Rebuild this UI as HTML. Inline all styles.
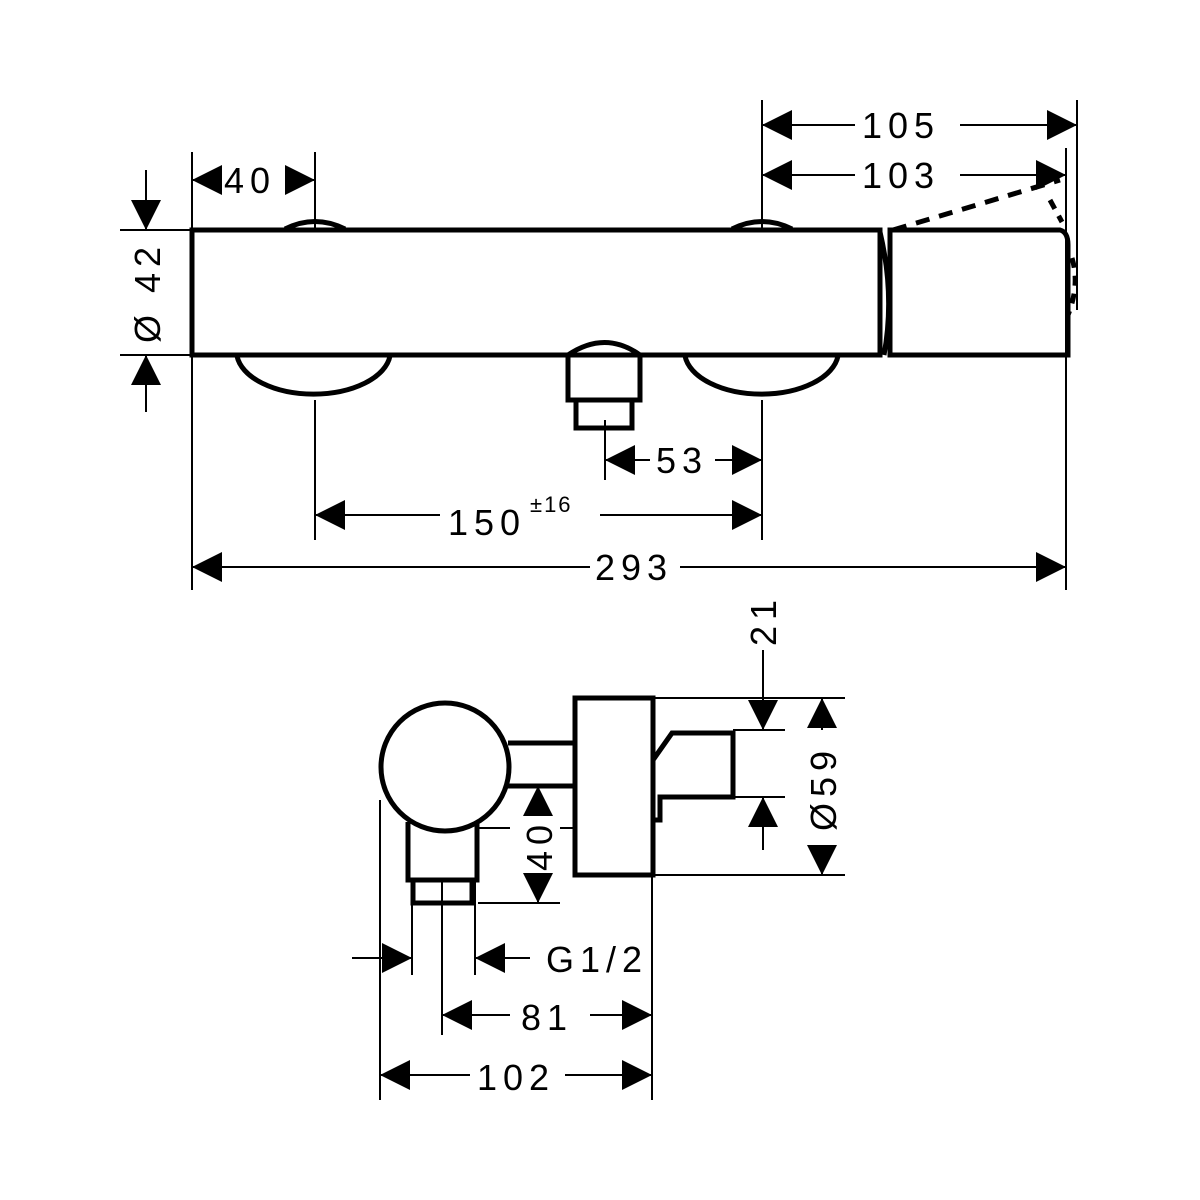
<!DOCTYPE html>
<html><head><style>html,body{margin:0;padding:0;background:#fff}svg{display:block}text{font-family:"Liberation Sans",sans-serif;font-size:36px;fill:#000;letter-spacing:6px}</style></head>
<body>
<svg width="1200" height="1200" viewBox="0 0 1200 1200" xmlns="http://www.w3.org/2000/svg">
<defs>
<marker id="a" viewBox="0 0 30 30" refX="30" refY="15" markerWidth="30" markerHeight="30" markerUnits="userSpaceOnUse" orient="auto"><path d="M0,0L30,15L0,30Z" fill="#000"/></marker>
</defs>
<g fill="none" stroke="#000">
<g stroke-width="5">
<path d="M192,230H880V355H192Z"/>
<path d="M890,230H1060Q1068,232 1068,245V355H890Z"/>
<path d="M880,232Q895,295 884,355"/>
<path d="M237,356A77,43 0 0 0 390,356"/>
<path d="M685,356A77,43 0 0 0 838,356"/>
<path d="M285,229Q315,214 345,229"/>
<path d="M732,229Q762,214 792,229"/>
<path d="M568,355V400H640V355Q605,330 568,355"/>
<path d="M576,400V428H632V400"/>
</g>
<path d="M893,230L1060,180" stroke-width="5" stroke-dasharray="14,10"/>
<path d="M1050,200L1062,222M1072,258Q1080,285 1068,315" stroke-width="5" stroke-dasharray="10,8"/>
<g stroke-width="2">
<path d="M192,152V230M315,152V230M192,355V590M1066,148V590M1077,100V310M762,100V230"/>
<path d="M120,230H192M120,355H192M146,170V230M146,355V412"/>
<path d="M315,400V540M762,400V540M605,420V480"/>
</g>
<g stroke-width="2" marker-end="url(#a)">
<path d="M222,180H192"/><path d="M286,180H315"/>
<path d="M855,125H762"/><path d="M960,125H1077"/>
<path d="M855,175H762"/><path d="M960,175H1066"/>
<path d="M146,170V230"/><path d="M146,412V355"/>
<path d="M650,460H605"/><path d="M715,460H762"/>
<path d="M440,515H315"/><path d="M600,515H762"/>
<path d="M590,567H192"/><path d="M680,567H1066"/>
</g>
<g stroke-width="5">
<circle cx="445" cy="767" r="64"/>
<path d="M575,698H653V875H575Z"/>
<path d="M508,743H575M508,786H575"/>
<path d="M408,822V880H477V822"/>
<path d="M413,880V903H472V880"/>
<path d="M653,760L672,733H733V797H660V820H653"/>
</g>
<g stroke-width="2">
<path d="M653,698H845M653,875H845M733,730H785M733,797H785M763,650V700M763,828V850"/>
<path d="M478,903H560M478,828H510M560,828H575"/>
<path d="M380,800V1100M412,880V975M475,880V975M442,880V1035M652,875V1100"/>
</g>
<g stroke-width="2" marker-end="url(#a)">
<path d="M763,690V730"/><path d="M763,835V797"/>
<path d="M822,730V698"/><path d="M822,845V875"/>
<path d="M538,815V786"/><path d="M538,875V903"/>
<path d="M352,958H412"/><path d="M530,958H475"/>
<path d="M510,1015H442"/><path d="M590,1015H652"/>
<path d="M470,1075H380"/><path d="M565,1075H652"/>
</g>
</g>
<text x="224" y="193">40</text>
<text x="862" y="138">105</text>
<text x="862" y="188">103</text>
<text x="656" y="473">53</text>
<text x="448" y="535">150</text><text x="530" y="512" style="font-size:22px;letter-spacing:2px">±16</text>
<text x="595" y="580">293</text>
<text x="546" y="972">G1/2</text>
<text x="521" y="1030">81</text>
<text x="477" y="1090">102</text>
<text transform="translate(160,292) rotate(-90)" text-anchor="middle">Ø 42</text>
<text transform="translate(776,620) rotate(-90)" text-anchor="middle">21</text>
<text transform="translate(836,788) rotate(-90)" text-anchor="middle">Ø59</text>
<text transform="translate(552,845) rotate(-90)" text-anchor="middle">40</text>
</svg>
</body></html>
